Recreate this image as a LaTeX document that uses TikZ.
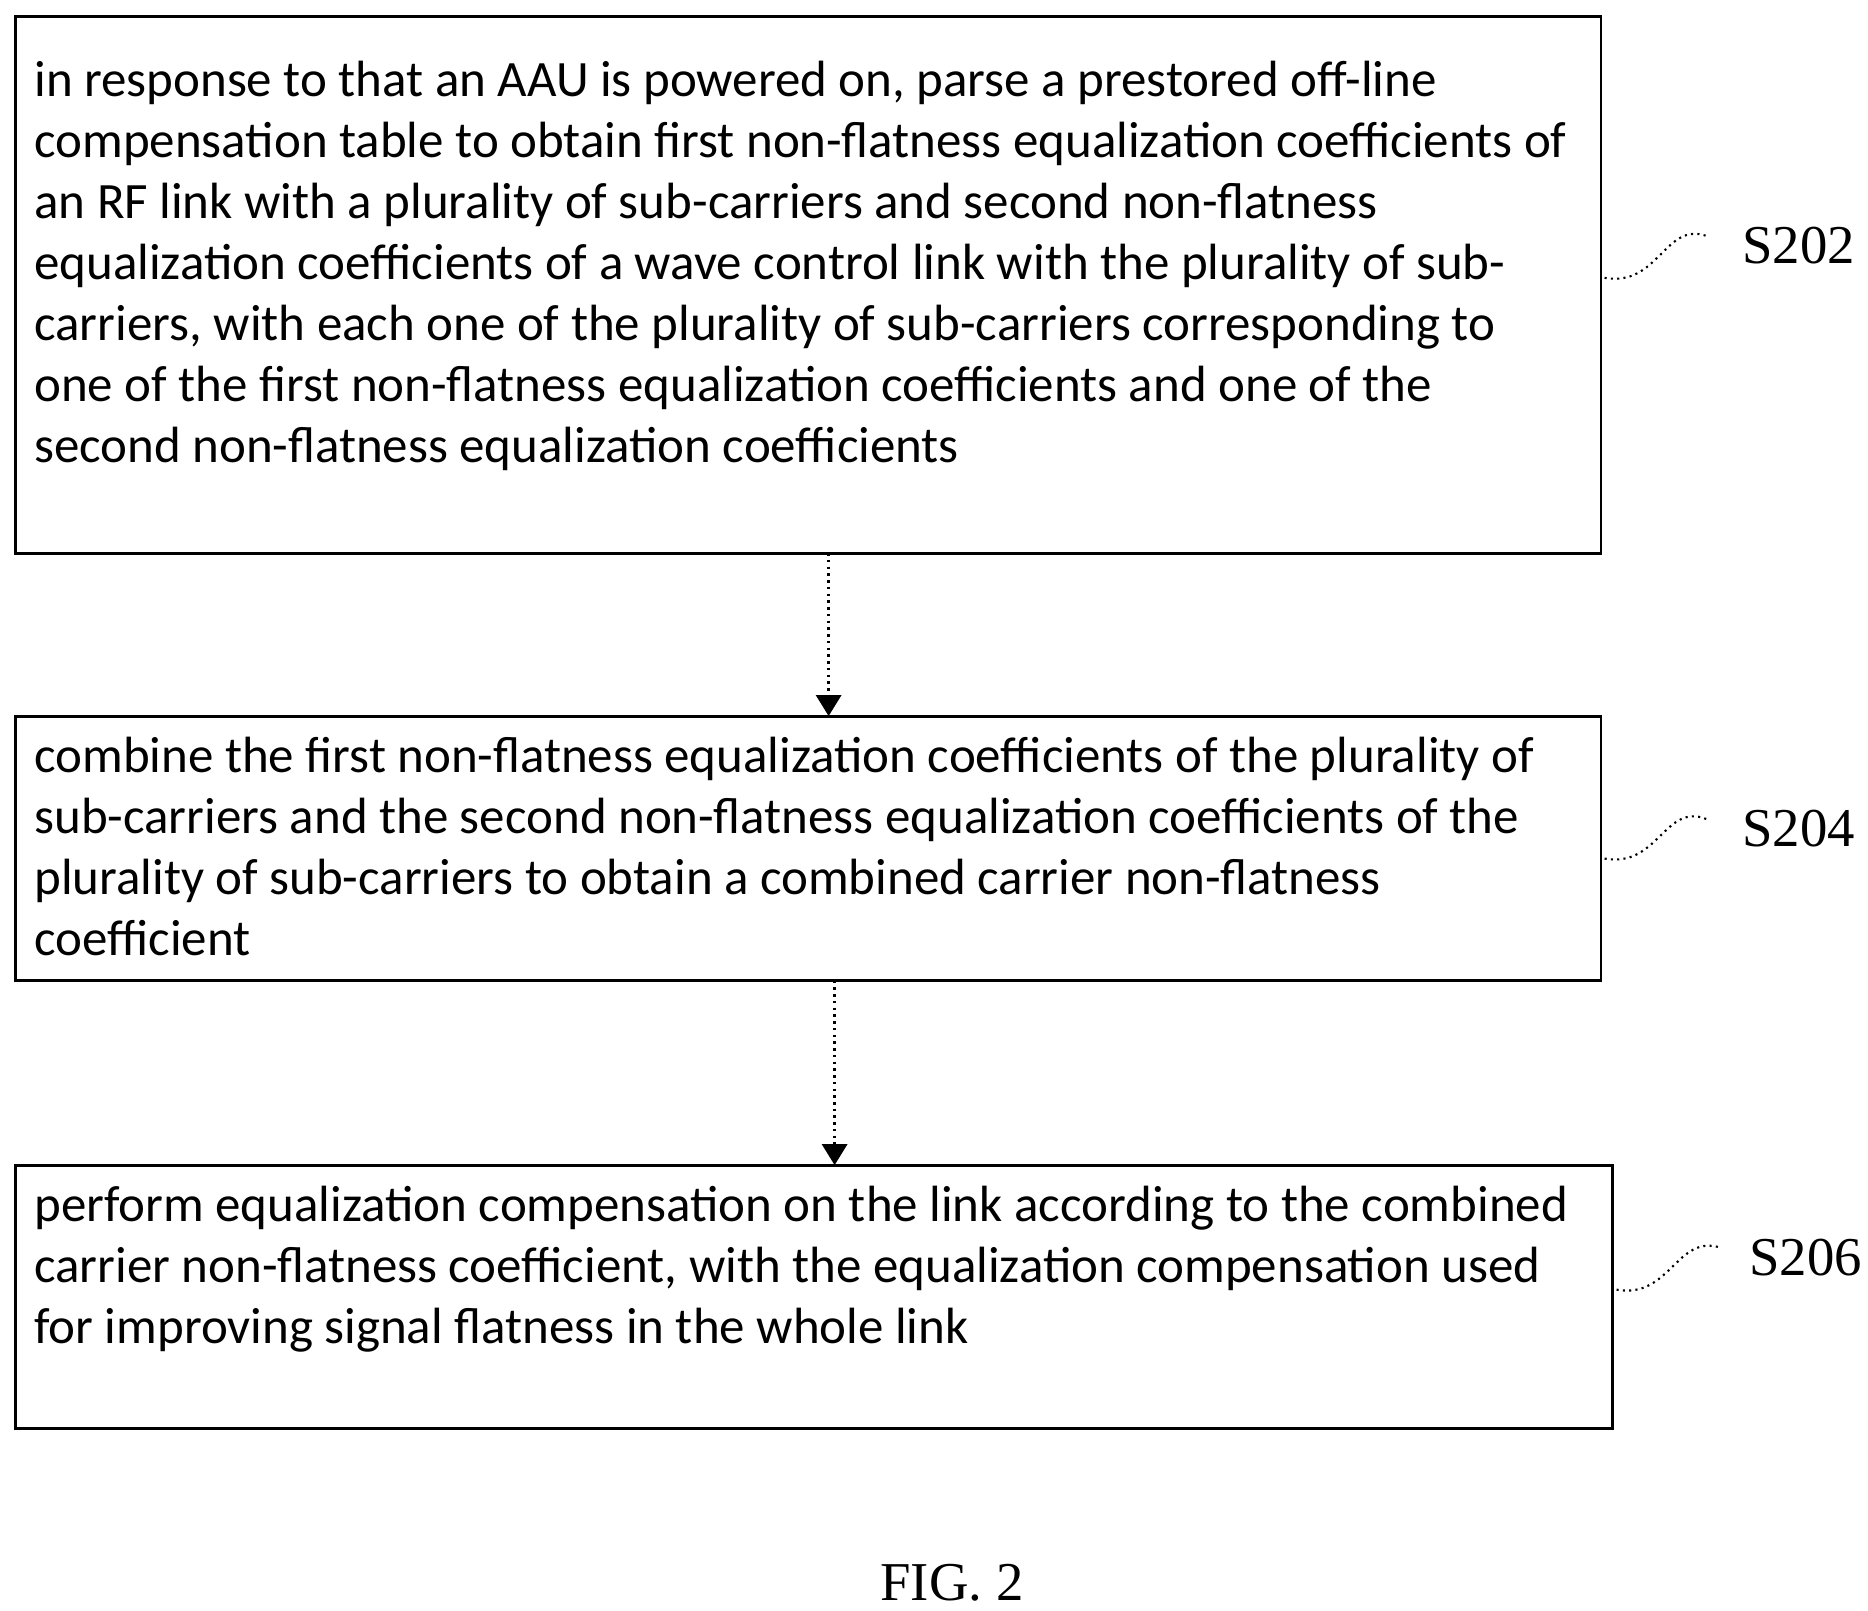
\documentclass[tikz,border=0pt]{standalone}
\usepackage{fontspec}
\setmainfont{Carlito}
\newfontfamily\serifl{Liberation Serif}
\usetikzlibrary{arrows.meta}
\begin{document}
\begin{tikzpicture}[x=0.01cm,y=-0.01cm,
 box/.style={draw,line width=0.7pt},
 txt/.style={anchor=north west,inner sep=0,align=left,font=\fontsize{12.1pt}{14.5pt}\selectfont},
 lab/.style={font=\serifl\fontsize{13pt}{15pt}\selectfont},
 arr/.style={densely dotted,-{Triangle[length=5pt,width=6pt]},line width=0.6pt},
 sq/.style={densely dotted,line width=0.5pt}]
\useasboundingbox (0,0) rectangle (1560,1345);
\draw[box] (13,14) rectangle (1337,462);
\node[txt] (t1) at (28,50) {in response to that an AAU is powered on, parse a prestored off-line\\compensation table to obtain first non-flatness equalization coefficients of\\an RF link with a plurality of sub-carriers and second non-flatness\\equalization coefficients of a wave control link with the plurality of sub-\\carriers, with each one of the plurality of sub-carriers corresponding to\\one of the first non-flatness equalization coefficients and one of the\\second non-flatness equalization coefficients};
\draw[box] (13,598) rectangle (1337,819);
\node[txt] (t2) at (28,615) {combine the first non-flatness equalization coefficients of the plurality of\\sub-carriers and the second non-flatness equalization coefficients of the\\plurality of sub-carriers to obtain a combined carrier non-flatness\\coefficient};
\draw[box] (13,973) rectangle (1347,1193);
\node[txt] (t3) at (28,990) {perform equalization compensation on the link according to the combined\\carrier non-flatness coefficient, with the equalization compensation used\\for improving signal flatness in the whole link};
\coordinate (a1s) at (692,462); \coordinate (a1e) at (692,598);
\coordinate (a2s) at (697,819); \coordinate (a2e) at (697,973);
\draw[arr] (a1s) -- (a1e);
\draw[arr] (a2s) -- (a2e);
\node[lab] (l1) at (1502,205) {S202};
\node[lab] (l2) at (1502,692) {S204};
\node[lab] (l3) at (1508,1050) {S206};
\coordinate (c1) at (1340,232); \coordinate (c2) at (1340,717); \coordinate (c3) at (1350,1077);
\draw[sq] (c1) .. controls (1385,240) and (1390,185) .. (1425,197);
\draw[sq] (c2) .. controls (1385,725) and (1390,670) .. (1425,684);
\draw[sq] (c3) .. controls (1395,1085) and (1400,1030) .. (1437,1042);
\node[lab] (fig) at (795,1322) {FIG. 2};
\end{tikzpicture}
\end{document}
